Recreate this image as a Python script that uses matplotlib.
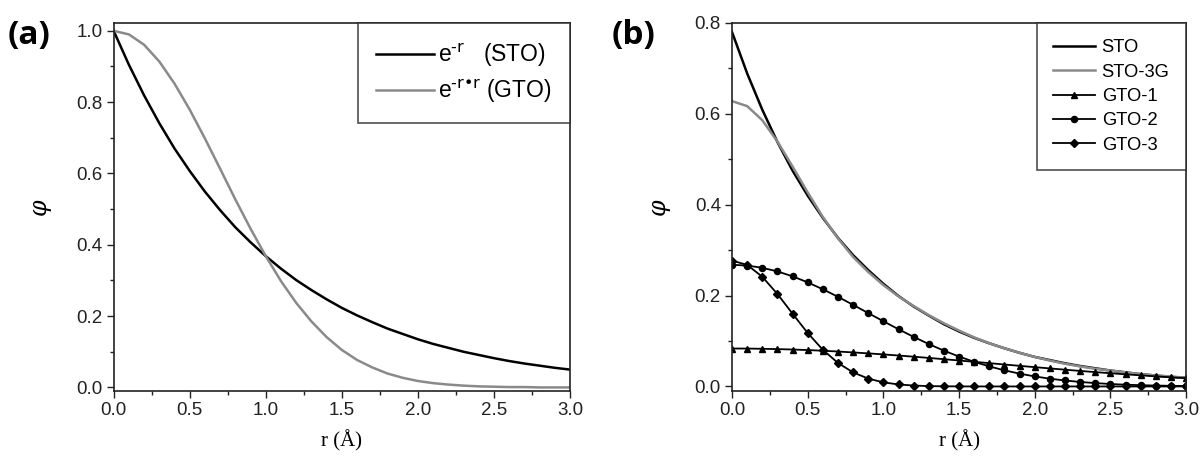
import matplotlib
matplotlib.use("Agg")
import matplotlib.pyplot as plt
from matplotlib.ticker import MultipleLocator, FormatStrFormatter

plt.rcParams['font.family'] = ['Liberation Sans', 'DejaVu Sans']
plt.rcParams['mathtext.default'] = 'regular'

# ---------------- data ----------------
r = [0.0, 0.1, 0.2, 0.3, 0.4, 0.5, 0.6, 0.7, 0.8, 0.9, 1.0,
     1.1, 1.2, 1.3, 1.4, 1.5, 1.6, 1.7, 1.8, 1.9, 2.0,
     2.1, 2.2, 2.3, 2.4, 2.5, 2.6, 2.7, 2.8, 2.9, 3.0]

# panel (a)
sto_a = [1.000, 0.905, 0.819, 0.741, 0.670, 0.607, 0.549, 0.497, 0.449, 0.407, 0.368,
         0.333, 0.301, 0.273, 0.247, 0.223, 0.202, 0.183, 0.165, 0.150, 0.135,
         0.122, 0.111, 0.100, 0.091, 0.082, 0.074, 0.067, 0.061, 0.055, 0.050]
gto_a = [1.000, 0.990, 0.961, 0.914, 0.852, 0.779, 0.698, 0.613, 0.527, 0.445, 0.368,
         0.298, 0.237, 0.185, 0.141, 0.105, 0.077, 0.056, 0.039, 0.027, 0.018,
         0.012, 0.008, 0.005, 0.003, 0.002, 0.001, 0.001, 0.000, 0.000, 0.000]
labels_a = [r'e$^{\text{-r}}$   (STO)', r'e$^{\text{-r•r}}$ (GTO)']

# panel (b)
sto_b = [0.780, 0.689, 0.609, 0.538, 0.475, 0.420, 0.371, 0.327, 0.289, 0.256, 0.226,
         0.199, 0.176, 0.156, 0.137, 0.121, 0.107, 0.095, 0.084, 0.074, 0.065,
         0.058, 0.051, 0.045, 0.040, 0.035, 0.031, 0.027, 0.024, 0.021, 0.019]
sto3g_b = [0.628, 0.617, 0.586, 0.539, 0.484, 0.427, 0.373, 0.326, 0.285, 0.252, 0.223,
           0.198, 0.177, 0.157, 0.139, 0.123, 0.108, 0.095, 0.084, 0.074, 0.065,
           0.057, 0.050, 0.044, 0.039, 0.035, 0.031, 0.027, 0.024, 0.022, 0.019]
gto1_b = [0.0835, 0.0834, 0.0829, 0.0822, 0.0813, 0.0801, 0.0786, 0.0769, 0.0749, 0.0728, 0.0705,
          0.0681, 0.0655, 0.0628, 0.0600, 0.0571, 0.0542, 0.0513, 0.0483, 0.0454, 0.0425,
          0.0397, 0.0369, 0.0342, 0.0316, 0.0291, 0.0267, 0.0244, 0.0222, 0.0202, 0.0183]
gto2_b = [0.2678, 0.2661, 0.2612, 0.2532, 0.2424, 0.2291, 0.2139, 0.1973, 0.1796, 0.1615, 0.1435,
          0.1259, 0.1091, 0.0933, 0.0788, 0.0658, 0.0542, 0.0441, 0.0355, 0.0282, 0.0221,
          0.0171, 0.0131, 0.0099, 0.0074, 0.0054, 0.0039, 0.0028, 0.0020, 0.0014, 0.0010]
gto3_b = [0.2769, 0.2676, 0.2414, 0.2035, 0.1601, 0.1176, 0.0807, 0.0517, 0.0309, 0.0173, 0.0090,
          0.0044, 0.0020, 0.0008, 0.0003, 0.0001, 0.0, 0.0, 0.0, 0.0, 0.0,
          0.0, 0.0, 0.0, 0.0, 0.0, 0.0, 0.0, 0.0, 0.0, 0.0]
labels_b = ['STO', 'STO-3G', 'GTO-1', 'GTO-2', 'GTO-3']

xticks = [0.0, 0.5, 1.0, 1.5, 2.0, 2.5, 3.0]

# ---------------- figure ----------------
fig = plt.figure(figsize=(12.04, 4.58), dpi=100)
axa = fig.add_axes([0.0944, 0.1463, 0.3791, 0.8035])
axb = fig.add_axes([0.6080, 0.1463, 0.3771, 0.8035])

GREY = '#8a8a8a'
TICK_FS = 13.5

axa.plot(r, sto_a, color='black', lw=1.8, label=labels_a[0])
axa.plot(r, gto_a, color=GREY, lw=1.8, label=labels_a[1])
axa.set_xlim(0, 3.0)
axa.set_ylim(-0.01, 1.022)
axa.yaxis.set_major_locator(MultipleLocator(0.2))
axa.yaxis.set_minor_locator(MultipleLocator(0.1))

axb.plot(r, sto_b, color='black', lw=1.8, label=labels_b[0])
axb.plot(r, sto3g_b, color=GREY, lw=1.8, label=labels_b[1])
axb.plot(r, gto1_b, color='black', lw=1.3, marker='^', ms=4.8, label=labels_b[2])
axb.plot(r, gto2_b, color='black', lw=1.3, marker='o', ms=4.4, label=labels_b[3])
axb.plot(r, gto3_b, color='black', lw=1.3, marker='D', ms=4.0, label=labels_b[4])
axb.set_xlim(0, 3.0)
axb.set_ylim(-0.01, 0.8)
axb.yaxis.set_major_locator(MultipleLocator(0.2))
axb.yaxis.set_minor_locator(MultipleLocator(0.1))

for ax in (axa, axb):
    ax.set_xticks(xticks)
    ax.xaxis.set_minor_locator(MultipleLocator(0.25))
    ax.tick_params(which='major', direction='out', length=5, width=1.0,
                   labelsize=TICK_FS, colors='#222222', pad=3)
    ax.tick_params(which='minor', direction='out', length=3, width=1.0, colors='#222222')
    ax.xaxis.set_major_formatter(FormatStrFormatter('%.1f'))
    ax.yaxis.set_major_formatter(FormatStrFormatter('%.1f'))
    for s in ax.spines.values():
        s.set_linewidth(1.2)
        s.set_color('#222222')
    ax.set_xlabel('r (Å)', family='Liberation Serif', fontsize=15, labelpad=8)
    ax.set_ylabel('φ', family='DejaVu Serif', style='italic', fontsize=17, labelpad=18)

leg_a = axa.legend(loc='upper right', borderaxespad=0, fontsize=16.5, frameon=True,
                   fancybox=False, edgecolor='#222222', handlelength=2.5,
                   handletextpad=0.2, borderpad=0.8, labelspacing=0.4)
leg_a.get_frame().set_linewidth(1.2)

leg_b = axb.legend(loc='upper right', borderaxespad=0, fontsize=13.2, frameon=True,
                   fancybox=False, edgecolor='#222222', handlelength=2.3,
                   handletextpad=0.35, borderpad=0.9, labelspacing=0.4)
leg_b.get_frame().set_linewidth(1.2)

fig.text(0.006, 0.905, '(a)', fontsize=24, fontweight='bold', family='Open Sans')
fig.text(0.508, 0.905, '(b)', fontsize=24, fontweight='bold', family='Open Sans')

fig.savefig('out.png', dpi=100)
